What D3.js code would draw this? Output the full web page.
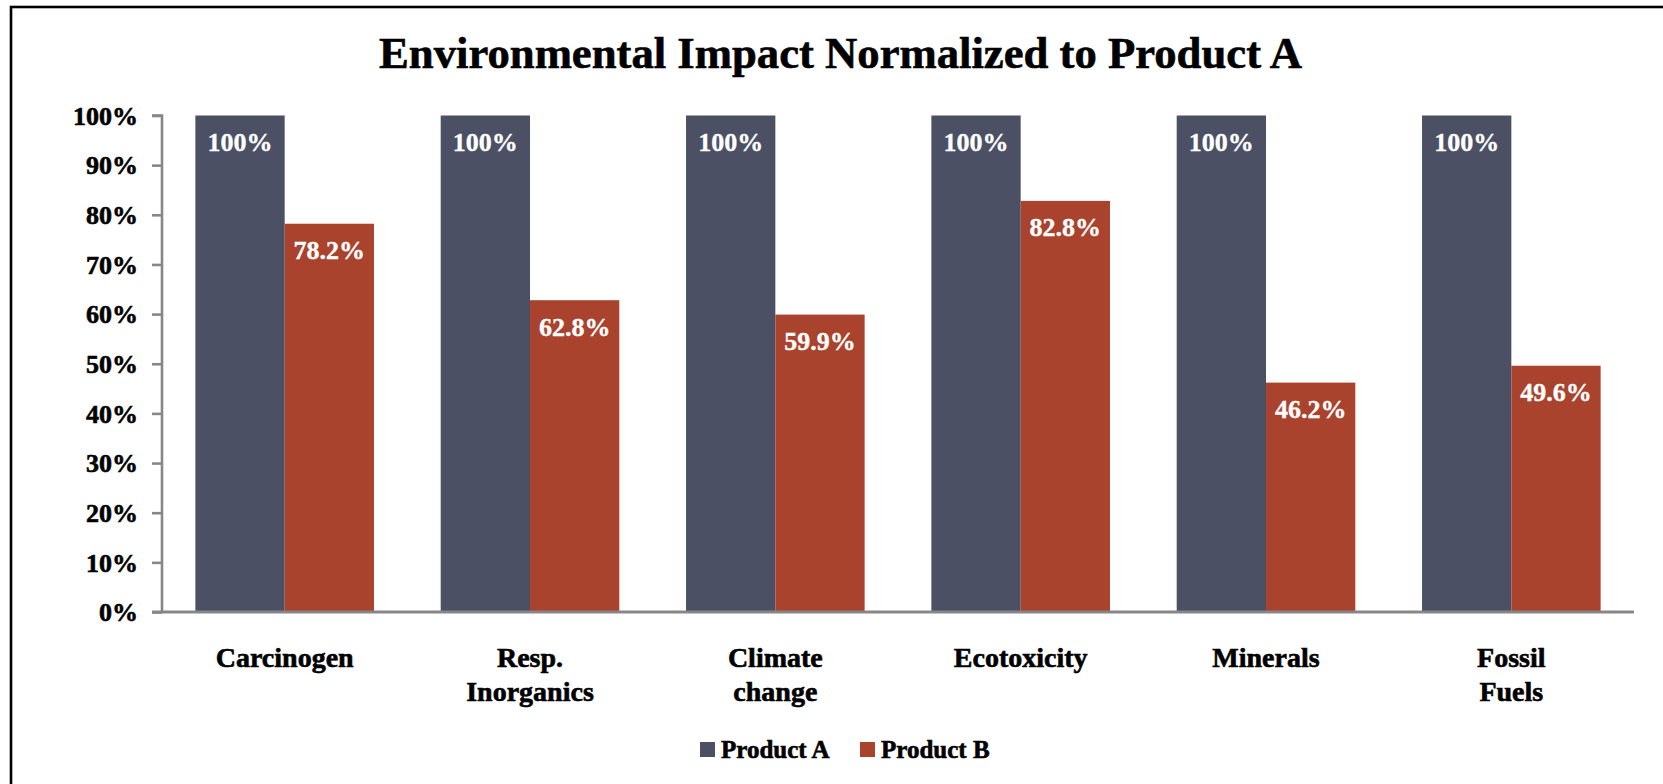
<!DOCTYPE html>
<html>
<head>
<meta charset="utf-8">
<script src="https://cdn.jsdelivr.net/npm/d3@7"></script>
<style>
  html, body { margin: 0; padding: 0; background: #fff; }
  svg { display: block; }
  text { font-family: "Liberation Serif", "DejaVu Serif", serif; font-weight: bold; }
  .heavy { stroke: #000; stroke-width: 0.6px; }
  .heavy-w { stroke: #fff; stroke-width: 0.35px; }
</style>
</head>
<body>
<svg id="chart" width="1663" height="784"></svg>
<script>
// Impact categories and the two products, normalized to Product A
const categories = [
  ["Carcinogen"],
  ["Resp.", "Inorganics"],
  ["Climate", "change"],
  ["Ecotoxicity"],
  ["Minerals"],
  ["Fossil", "Fuels"]
];
const seriesNames = ["Product A", "Product B"];
const productA = [1.0, 1.0, 1.0, 1.0, 1.0, 1.0];
const productB = [0.782, 0.628, 0.599, 0.828, 0.462, 0.496];
const yTicks = [0, 0.1, 0.2, 0.3, 0.4, 0.5, 0.6, 0.7, 0.8, 0.9, 1.0];
const colors = ["#4b5064", "#a9432d"];

const svg = d3.select("#chart");
const W = 1663, H = 784;
const plot = { left: 162, right: 1634, top: 115.5, bottom: 612 };

// Outer frame of the chart area
svg.append("rect")
  .attr("x", 11).attr("y", 7)
  .attr("width", W + 20).attr("height", H + 20)
  .attr("fill", "#fff").attr("stroke", "#000").attr("stroke-width", 2.6);

// Title
svg.append("text")
  .attr("class", "heavy")
  .attr("x", 840.5).attr("y", 67.5)
  .attr("text-anchor", "middle")
  .attr("font-size", 45)
  .attr("textLength", 923)
  .attr("lengthAdjust", "spacingAndGlyphs")
  .text("Environmental Impact Normalized to Product A");

const keys = categories.map(c => c.join(" "));
const x0 = d3.scaleBand().domain(keys)
  .range([plot.left, plot.right])
  .paddingInner(0.272).paddingOuter(0.136);
const x1 = d3.scaleBand().domain(seriesNames)
  .range([0, x0.bandwidth()]).padding(0);
const y = d3.scaleLinear().domain([0, 1]).range([plot.bottom, plot.top]);

const rows = keys.map((k, i) => ({ key: k, values: [productA[i], productB[i]] }));

// Bars
const groups = svg.append("g").selectAll("g")
  .data(rows).join("g")
  .attr("transform", d => `translate(${x0(d.key)},0)`);

groups.selectAll("rect")
  .data(d => d.values.map((v, j) => ({ name: seriesNames[j], v, j })))
  .join("rect")
  .attr("x", d => x1(d.name))
  .attr("y", d => y(d.v))
  .attr("width", x1.bandwidth())
  .attr("height", d => y(0) - y(d.v))
  .attr("fill", d => colors[d.j]);

// Value labels inside the bars
const fmt = v => v >= 1 ? "100%" : (v * 100).toFixed(1) + "%";
groups.selectAll("text")
  .data(d => d.values.map((v, j) => ({ name: seriesNames[j], v, j })))
  .join("text")
  .attr("class", "heavy-w")
  .attr("x", d => x1(d.name) + x1.bandwidth() / 2)
  .attr("y", d => y(d.v) + 35.5)
  .attr("text-anchor", "middle")
  .attr("font-size", 26)
  .attr("fill", "#fff")
  .text(d => fmt(d.v));

// Y axis
const yAxis = d3.axisLeft(y).tickValues(yTicks)
  .tickFormat(d3.format(".0%")).tickSize(10).tickPadding(14);
const ya = svg.append("g").attr("transform", `translate(${plot.left},0)`).call(yAxis);
ya.select(".domain").attr("stroke", "#878787").attr("stroke-width", 2.6)
  .attr("d", `M-10,${plot.top}H0V${plot.bottom}`);
ya.selectAll(".tick line").attr("stroke", "#878787").attr("stroke-width", 2.6);
ya.selectAll(".tick text")
  .attr("class", "heavy")
  .attr("font-family", "Liberation Serif, serif")
  .attr("font-weight", "bold")
  .attr("dy", "0.34em")
  .attr("font-size", 26).attr("fill", "#000");

// X axis baseline
const xa = svg.append("g").attr("transform", `translate(0,${plot.bottom})`)
  .call(d3.axisBottom(x0).tickSize(0).tickFormat(""));
xa.select(".domain").attr("stroke", "#878787").attr("stroke-width", 3)
  .attr("d", `M${plot.left - 10},0H${plot.right}`);

// Category labels
const cat = svg.append("g").selectAll("text")
  .data(categories).join("text")
  .attr("class", "heavy")
  .attr("x", (d, i) => x0(keys[i]) + x0.bandwidth() / 2)
  .attr("y", 667)
  .attr("text-anchor", "middle")
  .attr("font-size", 28);
cat.selectAll("tspan").data(d => d).join("tspan")
  .attr("x", function () { return d3.select(this.parentNode).attr("x"); })
  .attr("dy", (d, i) => i === 0 ? 0 : 33.5)
  .text(d => d);

// Legend
const legendX = [700, 860];
const legend = svg.append("g").selectAll("g")
  .data(seriesNames).join("g")
  .attr("transform", (d, i) => `translate(${legendX[i]},742)`);
legend.append("rect").attr("width", 15).attr("height", 15)
  .attr("fill", (d, i) => colors[i]);
legend.append("text").attr("class", "heavy")
  .attr("x", 21).attr("y", 16)
  .attr("font-size", 25)
  .text(d => d);
</script>
</body>
</html>
